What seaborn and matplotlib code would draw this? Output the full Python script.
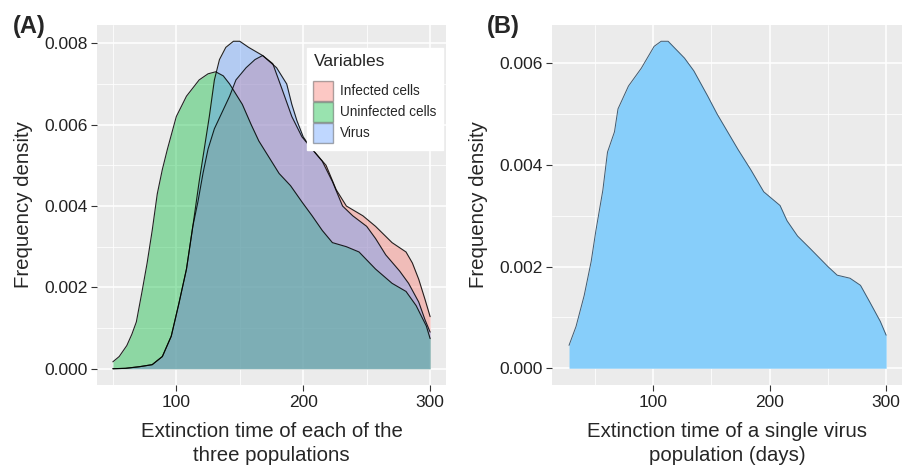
import numpy as np
import pandas as pd
import matplotlib
matplotlib.use("Agg")
import matplotlib.pyplot as plt
import seaborn as sns
from matplotlib.patches import Patch
from matplotlib.ticker import MultipleLocator

# Panel A: density curves (x = extinction time, y = density)
infected_x = [50, 60, 71, 81, 89, 96, 102, 108, 113, 117, 121, 125, 130, 136, 142, 147,
              155, 162, 168, 176, 183, 191, 199, 207, 218, 226, 234, 247, 257, 270, 281,
              286, 291, 296, 300]
infected_y = [0.0, 0.00001, 0.00005, 0.0001, 0.0003, 0.0008, 0.0016, 0.00245, 0.0035,
              0.0041, 0.0048, 0.0054, 0.0059, 0.0063, 0.0067, 0.0071, 0.0074, 0.0076,
              0.0077, 0.0075, 0.0069, 0.0062, 0.0057, 0.0054, 0.0050, 0.0044, 0.0040,
              0.00376, 0.0035, 0.0031, 0.00287, 0.0026, 0.0022, 0.0017, 0.00128]

uninfected_x = [50, 55, 61, 65, 68.5, 73, 77, 81, 85, 89, 93, 100, 108, 118, 125, 131, 137,
                142, 152, 159, 165, 171, 181, 190, 199, 207, 215, 223, 234, 244, 257, 270,
                281, 289, 297, 300]
uninfected_y = [0.00017, 0.0003, 0.00057, 0.00085, 0.00115, 0.0019, 0.0026, 0.0034, 0.0043,
                0.0049, 0.0054, 0.0062, 0.0067, 0.0071, 0.00725, 0.0073, 0.0072, 0.0070,
                0.0065, 0.0060, 0.0056, 0.0053, 0.0048, 0.0045, 0.0041, 0.00376, 0.0034,
                0.0031, 0.0030, 0.00287, 0.00245, 0.0021, 0.0019, 0.00155, 0.00105, 0.00074]

virus_x = [50, 60, 71, 81, 89, 96, 102, 108, 113, 118, 122, 126, 130, 134, 139, 145, 150,
           157, 168, 179, 187, 191, 195, 200, 205, 215, 223, 231, 239, 250, 257, 265, 276,
           283, 291, 296, 300]
virus_y = [0.0, 0.00001, 0.00005, 0.0001, 0.0003, 0.0008, 0.0016, 0.00245, 0.0035, 0.0046,
           0.0054, 0.0062, 0.0071, 0.0076, 0.0079, 0.00805, 0.00805, 0.0079, 0.0077, 0.0074,
           0.0070, 0.0065, 0.0061, 0.0057, 0.00547, 0.0051, 0.0046, 0.0040, 0.00376, 0.0035,
           0.0032, 0.0028, 0.0024, 0.0021, 0.00164, 0.0012, 0.0009]

# Panel B: single virus population
single_x = [28, 34, 41, 47, 51, 57, 61, 67, 70, 79, 90, 101, 107, 113, 127, 135, 147, 155,
            164, 173, 184, 195, 209, 215, 224, 235, 250, 258, 269, 278, 286, 295, 300]
single_y = [0.00045, 0.00082, 0.00143, 0.0021, 0.0027, 0.0035, 0.00425, 0.00465, 0.0051,
            0.00555, 0.0059, 0.00633, 0.00643, 0.00643, 0.0061, 0.00585, 0.00535, 0.0050,
            0.00465, 0.0043, 0.0039, 0.00347, 0.0032, 0.0029, 0.0026, 0.00235, 0.0020,
            0.00183, 0.00177, 0.00163, 0.0013, 0.00092, 0.00065]

labels = ["Infected cells", "Uninfected cells", "Virus"]
colors = ["#F8766D", "#00BA38", "#619CFF"]

df = pd.concat([
    pd.DataFrame({"time": infected_x, "density": infected_y, "var": labels[0]}),
    pd.DataFrame({"time": uninfected_x, "density": uninfected_y, "var": labels[1]}),
    pd.DataFrame({"time": virus_x, "density": virus_y, "var": labels[2]}),
])
df_b = pd.DataFrame({"time": single_x, "density": single_y})

sns.set_theme(style="darkgrid")
plt.rcParams["font.family"] = ["Liberation Sans", "DejaVu Sans"]

fig = plt.figure(figsize=(9.08, 4.73), dpi=100)
axA = fig.add_axes([97 / 908, 88 / 473, 349 / 908, 360 / 473])
axB = fig.add_axes([552 / 908, 88 / 473, 350 / 908, 360 / 473])


def ggplot_style(ax):
    ax.set_facecolor("#EBEBEB")
    ax.grid(True, which="major", color="white", lw=1.1)
    ax.grid(True, which="minor", color="white", lw=0.55)
    ax.set_axisbelow(True)
    for s in ax.spines.values():
        s.set_visible(False)
    ax.tick_params(which="major", length=4, width=0.8, color="#333333",
                   labelsize=12.5, labelcolor="#222222", pad=3, bottom=True, left=True)
    ax.tick_params(which="minor", length=0)


# Panel A
for lab, col in zip(labels, colors):
    sub = df[df["var"] == lab]
    axA.fill_between(sub["time"], 0, sub["density"], color=col, alpha=0.4, lw=0)
    sns.lineplot(data=sub, x="time", y="density", ax=axA, color="black", lw=0.8,
                 alpha=0.85, sort=False)

axA.set_xlim(37.5, 312.5)
axA.set_ylim(-0.0004, 0.00845)
axA.xaxis.set_major_locator(MultipleLocator(100))
axA.xaxis.set_minor_locator(MultipleLocator(50))
axA.set_yticks([0, 0.002, 0.004, 0.006, 0.008])
axA.set_yticklabels(["0.000", "0.002", "0.004", "0.006", "0.008"])
axA.yaxis.set_minor_locator(MultipleLocator(0.001))
ggplot_style(axA)
axA.set_xlabel("Extinction time of each of the\nthree populations", fontsize=14.7,
               linespacing=1.35, labelpad=9)
axA.set_ylabel("Frequency density", fontsize=14.7, labelpad=8)

handles = [Patch(facecolor=c, alpha=0.4, edgecolor="#333333", lw=1) for c in colors]
leg = axA.legend(handles, labels, title="Variables", loc="upper right",
                 bbox_to_anchor=(0.992, 0.937), borderaxespad=0, fontsize=9.8,
                 title_fontsize=12.5, frameon=True, fancybox=False, handlelength=1.4,
                 handleheight=1.9, handletextpad=0.55, labelspacing=0.08,
                 borderpad=0.5)
leg.get_frame().set_facecolor("white")
leg.get_frame().set_edgecolor("white")
leg.get_frame().set_alpha(1)
leg._legend_box.align = "left"
leg._legend_box.sep = 8

# Panel B
axB.fill_between(df_b["time"], 0, df_b["density"], color="#87CEFA", lw=0)
sns.lineplot(data=df_b, x="time", y="density", ax=axB, color="#3f5a70", lw=0.7)
axB.set_xlim(13.4, 313.6)
axB.set_ylim(-0.00033, 0.00675)
axB.xaxis.set_major_locator(MultipleLocator(100))
axB.xaxis.set_minor_locator(MultipleLocator(50))
axB.set_yticks([0, 0.002, 0.004, 0.006])
axB.set_yticklabels(["0.000", "0.002", "0.004", "0.006"])
axB.yaxis.set_minor_locator(MultipleLocator(0.001))
ggplot_style(axB)
axB.set_xlabel("Extinction time of a single virus\npopulation (days)", fontsize=14.7,
               linespacing=1.35, labelpad=9)
axB.set_ylabel("Frequency density", fontsize=14.7, labelpad=8)

fig.text(13 / 908, 1 - 33 / 473, "(A)", fontsize=17, fontweight="bold")
fig.text(487 / 908, 1 - 33 / 473, "(B)", fontsize=17, fontweight="bold")

fig.savefig("out.png", dpi=100, facecolor="white")
